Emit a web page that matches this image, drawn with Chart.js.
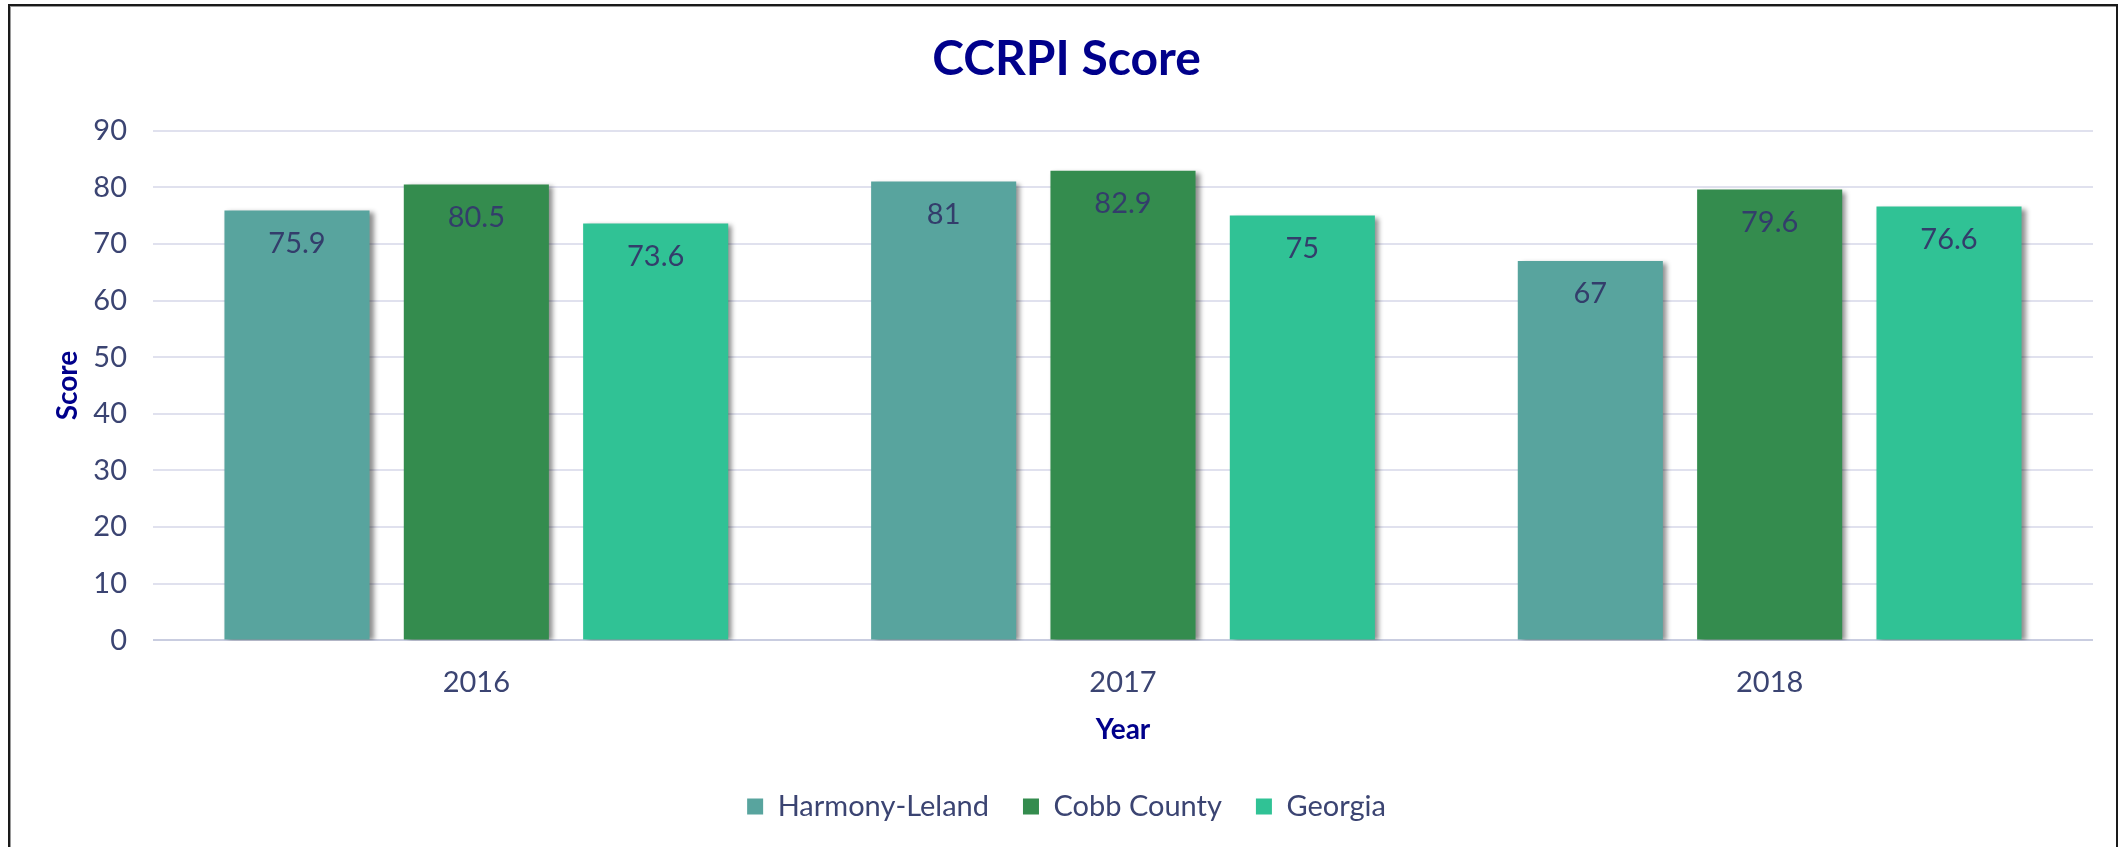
<!DOCTYPE html>
<html>
<head>
<meta charset="utf-8">
<script src="https://cdn.jsdelivr.net/npm/chart.js@4.4.1/dist/chart.umd.min.js"></script>
<style>
  html, body { margin: 0; padding: 0; background: #ffffff; overflow: hidden; }
  #wrap { position: relative; width: 2122px; height: 847px; }
  #frame { position: absolute; left: 8px; top: 4px; width: 2110px; height: 900px;
           border: 2px solid #1a1a1a; box-shadow: inset 1px 1px 0 #9a9a9a; box-sizing: border-box; }
  #c { position: absolute; left: 0; top: 0; }
</style>
</head>
<body>
<div id="wrap">
  <div id="frame"></div>
  <canvas id="c" width="2122" height="847"></canvas>
</div>
<script>
const categories = ['2016', '2017', '2018'];
const seriesNames = ['Harmony-Leland', 'Cobb County', 'Georgia'];
const harmonyLeland = [75.9, 81, 67];
const cobbCounty = [80.5, 82.9, 79.6];
const georgia = [73.6, 75, 76.6];
const yTicks = [0, 10, 20, 30, 40, 50, 60, 70, 80, 90];

const colors = ['#58A49E', '#348C4E', '#30C295'];
const textColor = '#3B4472';
const titleBlue = '#00008B';

const shadowPlugin = {
  id: 'barShadow',
  beforeDatasetsDraw(chart) {
    const ctx = chart.ctx;
    ctx.save();
    ctx.shadowColor = 'rgba(0,0,0,0.45)';
    ctx.shadowBlur = 5;
    ctx.shadowOffsetX = 4;
    ctx.shadowOffsetY = 2;
  },
  afterDatasetsDraw(chart) {
    chart.ctx.restore();
  }
};

const labelPlugin = {
  id: 'barLabels',
  afterDatasetsDraw(chart) {
    const ctx = chart.ctx;
    ctx.save();
    ctx.shadowColor = 'transparent';
    ctx.font = '29px Lato';
    ctx.fillStyle = '#333D6B';
    ctx.textAlign = 'center';
    ctx.textBaseline = 'middle';
    chart.data.datasets.forEach((ds, i) => {
      const meta = chart.getDatasetMeta(i);
      meta.data.forEach((bar, j) => {
        ctx.fillText(String(ds.data[j]), bar.x, bar.y + 33);
      });
    });
    ctx.restore();
  }
};

function build() {
  Chart.defaults.font.family = 'Lato';
  Chart.defaults.color = textColor;
  new Chart(document.getElementById('c'), {
    type: 'bar',
    data: {
      labels: categories,
      datasets: [
        { label: seriesNames[0], data: harmonyLeland, backgroundColor: colors[0] },
        { label: seriesNames[1], data: cobbCounty, backgroundColor: colors[1] },
        { label: seriesNames[2], data: georgia, backgroundColor: colors[2] }
      ]
    },
    options: {
      responsive: false,
      animation: false,
      devicePixelRatio: 1,
      categoryPercentage: 0.832,
      barPercentage: 0.809,
      layout: { padding: { top: 10, left: 40, right: 29, bottom: 16 } },
      plugins: {
        title: {
          display: true,
          text: 'CCRPI Score',
          color: titleBlue,
          font: { size: 48, weight: 'bold', family: 'Lato' },
          padding: { top: 21, bottom: 42 }
        },
        legend: {
          position: 'bottom',
          title: { display: true, text: '', font: { size: 1 }, padding: { top: 10, bottom: 0 } },
          labels: {
            boxWidth: 16, boxHeight: 16, padding: 34,
            color: textColor,
            font: { size: 29, family: 'Lato' }
          }
        },
        tooltip: { enabled: false }
      },
      scales: {
        x: {
          grid: { display: false, drawTicks: false },
          border: { display: false },
          ticks: { padding: 25, color: textColor, font: { size: 29 } },
          title: { display: true, text: 'Year', color: titleBlue,
                   font: { size: 28, weight: 'bold' }, padding: { top: -12, bottom: 0 } }
        },
        y: {
          min: 0, max: 90,
          afterFit(scale) { scale.width = 153 - 40; },
          afterBuildTicks(scale) { scale.ticks = yTicks.map(v => ({ value: v })); },
          grid: {
            drawTicks: false,
            lineWidth: 2,
            color: (c) => (c.tick && c.tick.value === 0) ? '#C9CDE0' : '#E0E1EE'
          },
          border: { display: false },
          ticks: { padding: 26, color: textColor, font: { size: 29 } },
          title: { display: true, text: 'Score', color: titleBlue,
                   font: { size: 28, weight: 'bold' }, padding: { top: 11, bottom: 0 } }
        }
      }
    },
    plugins: [shadowPlugin, labelPlugin]
  });
}

Promise.all([
  document.fonts.load('29px Lato'),
  document.fonts.load('bold 48px Lato')
]).then(build, build);
</script>
</body>
</html>
